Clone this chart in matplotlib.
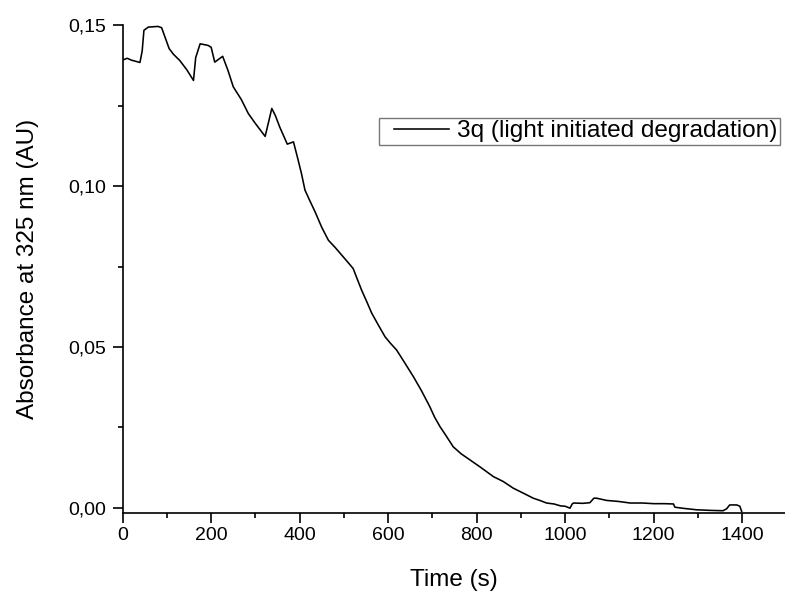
import matplotlib
matplotlib.use("Agg")
import matplotlib.pyplot as plt
from matplotlib.ticker import MultipleLocator, FuncFormatter
from matplotlib.legend_handler import HandlerLine2D

plt.rcParams['font.family'] = ['Liberation Sans', 'DejaVu Sans']

time_s = [0, 3, 10, 20, 39, 44, 48, 58, 80, 88, 105, 115, 129, 145, 160, 165, 175,
          193, 200, 208, 226, 238, 250, 268, 284, 300, 322, 337, 345, 355, 372,
          386, 395, 404, 412, 423, 435, 450, 465, 480, 495, 510, 521, 530, 540,
          552, 563, 578, 593, 605, 619, 637, 657, 675, 694, 705, 717, 732, 747,
          765, 785, 810, 838, 860, 883, 905, 928, 945, 958, 975, 990, 1000,
          1011, 1016, 1019, 1040, 1056, 1065, 1071, 1094, 1120, 1147, 1175,
          1200, 1225, 1245, 1248, 1270, 1297, 1330, 1357, 1365, 1372, 1388,
          1395, 1399]
absorbance = [0.1395, 0.1394, 0.1398, 0.1392, 0.1385, 0.1420, 0.1485, 0.1495,
              0.1497, 0.1493, 0.1428, 0.1410, 0.1391, 0.1362, 0.1329, 0.1400,
              0.1443, 0.1438, 0.1432, 0.1386, 0.1404, 0.1360, 0.1309, 0.1270,
              0.1226, 0.1195, 0.1155, 0.1242, 0.1220, 0.1184, 0.1131, 0.1138,
              0.1090, 0.1040, 0.0988, 0.0955, 0.0920, 0.0872, 0.0832, 0.0810,
              0.0786, 0.0762, 0.0744, 0.0712, 0.0677, 0.0640, 0.0605, 0.0568,
              0.0532, 0.0512, 0.0491, 0.0452, 0.0408, 0.0365, 0.0315, 0.0282,
              0.0253, 0.0222, 0.0190, 0.0168, 0.0149, 0.0125, 0.0097, 0.0082,
              0.0061, 0.0046, 0.0030, 0.0022, 0.0015, 0.0012, 0.0006, 0.0005,
              -0.0001, 0.0012, 0.0015, 0.0014, 0.0016, 0.0030, 0.0030, 0.0023,
              0.0020, 0.0015, 0.0015, 0.0013, 0.0013, 0.0012, 0.0002, -0.0002,
              -0.0006, -0.0008, -0.0009, -0.0003, 0.0009, 0.0009, 0.0005, -0.0011]
series_label = "3q (light initiated degradation)"
x_label = "Time (s)"
y_label = "Absorbance at 325 nm (AU)"


class OffsetLineHandler(HandlerLine2D):
    def get_xdata(self, legend, xdescent, ydescent, width, height, fontsize):
        xd, xm = super().get_xdata(legend, xdescent, ydescent, width, height, fontsize)
        shift = 0.5 * fontsize
        xd = [xd[0] + shift, xd[-1]]
        return xd, xm


fig = plt.figure(figsize=(7.85, 5.91), dpi=100)
ax = fig.add_axes([0.1563, 0.132, 0.8437, 0.826])
line, = ax.plot(time_s, absorbance, color='black', lw=1.15, label=series_label)

ax.set_xlim(0, 1497)
ax.set_ylim(-0.0016, 0.1502)
ax.xaxis.set_major_locator(MultipleLocator(200))
ax.xaxis.set_minor_locator(MultipleLocator(100))
ax.yaxis.set_major_locator(MultipleLocator(0.05))
ax.yaxis.set_minor_locator(MultipleLocator(0.025))
ax.yaxis.set_major_formatter(FuncFormatter(lambda v, p: f"{v:.2f}".replace('.', ',').replace('-0,00', '0,00')))

for s in ['top', 'right']:
    ax.spines[s].set_visible(False)
for s in ['left', 'bottom']:
    ax.spines[s].set_linewidth(1.2)
ax.tick_params(which='major', direction='out', length=7, width=1.2, labelsize=14)
ax.tick_params(which='minor', direction='out', length=3.5, width=1.2)
ax.tick_params(axis='x', which='major', pad=3)
ax.tick_params(axis='y', which='major', pad=5)

ax.set_xlabel(x_label, fontsize=17.5, labelpad=18)
ax.set_ylabel(y_label, fontsize=17.5, labelpad=21)

leg = ax.legend(handler_map={line: OffsetLineHandler()},
                loc='center', bbox_to_anchor=(0.7382, 0.7783), bbox_transform=fig.transFigure,
                fontsize=17.6, frameon=True, fancybox=False, handlelength=2.75,
                handletextpad=0.35, borderpad=0.1, borderaxespad=0)
leg.get_frame().set_edgecolor('#555555')
leg.get_frame().set_linewidth(1.0)

fig.savefig("out.png", dpi=100)
